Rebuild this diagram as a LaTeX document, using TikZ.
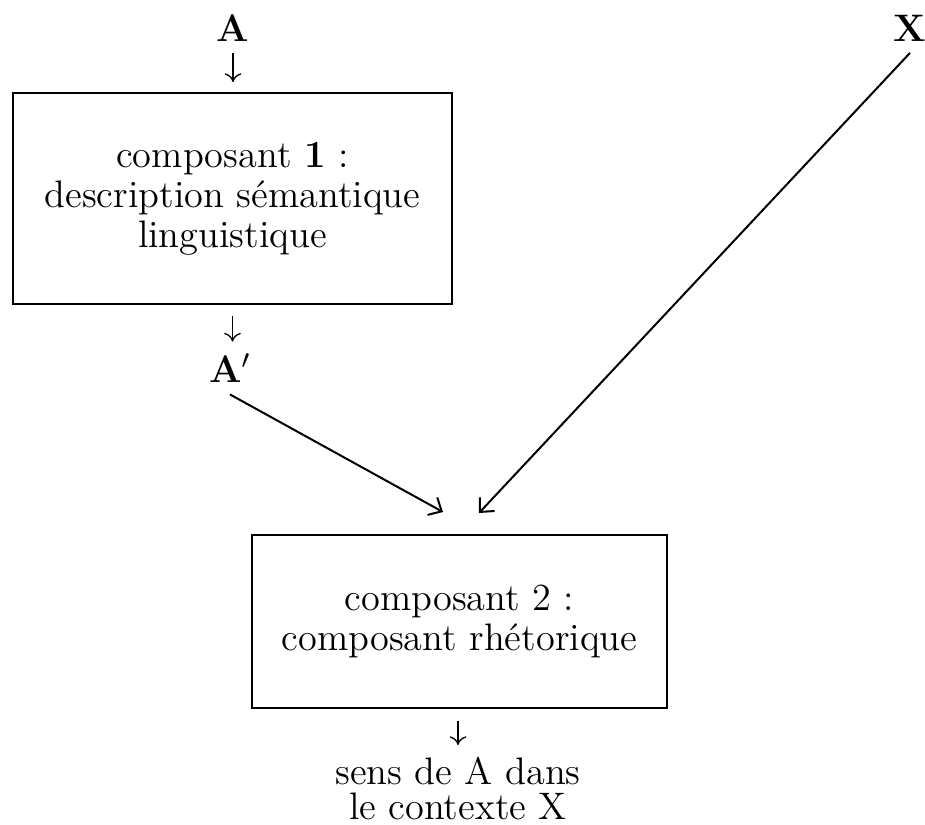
\documentclass[tikz,border=0pt]{standalone}
\usetikzlibrary{arrows.meta}
\begin{document}
\begin{tikzpicture}[x=0.3pt, y=-0.3pt, every node/.style={font=\fontsize{11.5pt}{12pt}\selectfont}, comp/.style={draw, line width=0.6pt, inner sep=0pt, align=center}, lettre/.style={font=\fontsize{11.5pt}{12pt}\selectfont\bfseries}, small/.style={-{To[length=2.6pt,width=5pt]}, line width=0.4pt}, arr/.style={-{Straight Barb[length=3.2pt,width=6pt]}, line width=0.6pt}]
\useasboundingbox (0,0) rectangle (925,825);
\node[lettre] (A) at (233,28) {A}; \node[lettre] (X) at (910,28) {X};
\node[comp, minimum width=131.7pt, minimum height=63.3pt] (comp1) at (232.5,198.5) {composant \textbf{1} :\\description sémantique\\linguistique};
\node[lettre] (Ap) at (230,368) {A$'$};
\node[comp, minimum width=124.5pt, minimum height=51.9pt] (comp2) at (459.5,621.5) {composant 2 :\\composant rhétorique};
\node[align=center, anchor=north] (sens) at (458,745) {sens de A dans\\[-1.5pt]le contexte X};
\coordinate (in1) at (443,512); \coordinate (in2) at (479,513);
\draw[small, shorten >=3pt] (A) -- (A |- comp1.north); \draw[small, shorten <=3.3pt] (comp1.south) -- (comp1.south |- Ap.north);
\draw[arr] (Ap.south) -- (in1); \draw[arr] (X.south) -- (in2);
\draw[small, shorten <=3.5pt] (comp2.south -| sens.north) -- (sens.north);
\end{tikzpicture}
\end{document}
